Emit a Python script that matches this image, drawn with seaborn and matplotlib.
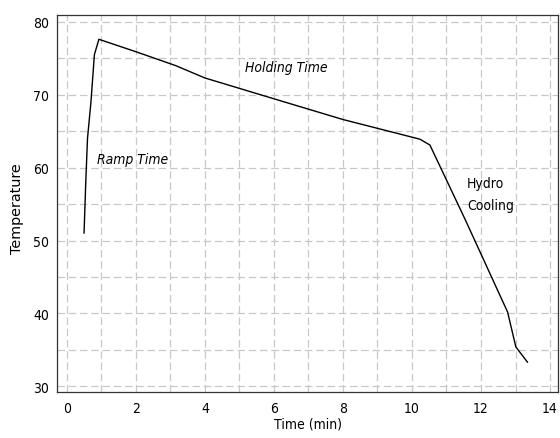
import matplotlib
matplotlib.use("Agg")
import matplotlib.pyplot as plt
import seaborn as sns
import pandas as pd
from matplotlib.ticker import MultipleLocator

time_min = [0.5, 0.55, 0.6, 0.7, 0.8, 0.93, 2.0, 3.15, 4.0, 6.17, 8.0, 10.23, 10.52, 11.54, 12.77, 13.01, 13.35]
temperature = [51.0, 58.0, 64.0, 69.0, 75.5, 77.6, 75.9, 74.0, 72.3, 69.2, 66.6, 63.9, 63.1, 52.9, 40.2, 35.4, 33.3]

x_ticks = [0, 2, 4, 6, 8, 10, 12, 14]
y_ticks = [30, 40, 50, 60, 70, 80]

df = pd.DataFrame({"Time (min)": time_min, "Temperature": temperature})

sns.set_theme(style="white")
plt.rcParams["font.family"] = ["DejaVu Sans"]
plt.rcParams["font.stretch"] = "condensed"
plt.rcParams["text.color"] = "black"
plt.rcParams["axes.labelcolor"] = "black"
plt.rcParams["xtick.color"] = "black"
plt.rcParams["ytick.color"] = "black"

fig = plt.figure(figsize=(5.6, 4.39), dpi=100)
ax = fig.add_axes([0.102, 0.104, 0.895, 0.860])

sns.lineplot(data=df, x="Time (min)", y="Temperature", color="black", linewidth=1.0, ax=ax, sort=False)

ax.set_xlim(-0.28, 14.24)
ax.set_ylim(29.18, 80.96)
ax.set_xticks(x_ticks)
ax.set_yticks(y_ticks)
ax.xaxis.set_minor_locator(MultipleLocator(1))
ax.yaxis.set_minor_locator(MultipleLocator(5))
ax.grid(which="both", linestyle=(0, (6, 3)), color="#c8c8c8", linewidth=0.9)
ax.set_axisbelow(True)
ax.tick_params(axis="both", which="major", direction="out", length=4, width=0.8, color="black", labelsize=10, pad=2)
ax.tick_params(axis="both", which="minor", length=0)
for s in ax.spines.values():
    s.set_color("#333333")
    s.set_linewidth(0.9)

ax.set_xlabel("Time (min)", fontsize=10, labelpad=1)
ax.set_ylabel("Temperature", fontsize=10.4, fontstretch="normal", labelpad=7)
ax.yaxis.set_label_coords(-0.066, 0.49)

ax.text(0.87, 61.2, "Ramp Time", fontsize=10, style="italic", va="center", ha="left")
ax.text(5.16, 73.8, "Holding Time", fontsize=10, style="italic", va="center", ha="left")
ax.text(11.6, 56.4, "Hydro\nCooling", fontsize=10, va="center", ha="left", linespacing=1.7)

fig.savefig("out.png", dpi=100)
